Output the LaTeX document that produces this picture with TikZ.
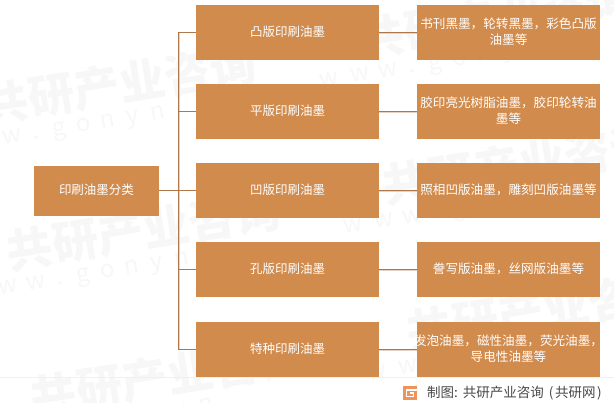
\documentclass[tikz,border=0pt]{standalone}
\usepackage{fontspec}
\setmainfont{Noto Sans CJK SC}
\definecolor{boxfill}{HTML}{D18B4D}
\definecolor{linecol}{HTML}{B0774A}
\definecolor{shadowcol}{HTML}{E6D2C2}
\definecolor{wmark}{HTML}{F7F7F7}
\definecolor{logocol}{HTML}{F0925A}
\newcommand{\wl}[2]{\makebox[#1pt][c]{#2}}
\newcommand{\wideline}[1]{\makebox[183pt][c]{#1}}
\tikzset{
  x=1pt,y=-1pt,
  rootbox/.style={fill=boxfill,text=white,minimum width=125pt,minimum height=50pt,inner sep=0pt,text depth=3.5pt,font=\fontsize{12.5pt}{16pt}\selectfont},
  midbox/.style={fill=boxfill,text=white,minimum width=183pt,minimum height=55pt,inner sep=0pt,text depth=3.5pt,font=\fontsize{12.5pt}{16pt}\selectfont},
  infobox/.style={midbox,text depth=,align=center,text width=183pt,execute at end node={\rule[-2.5pt]{0pt}{2.5pt}},font=\fontsize{12.6pt}{16.5pt}\selectfont},
  conn/.style={draw=linecol,line width=1pt},
  connshadow/.style={draw=shadowcol,line width=1.4pt},
  wmcn/.style={text=wmark,font=\fontsize{46pt}{46pt}\selectfont\bfseries,rotate=9,inner sep=0pt,anchor=west},
  wmen/.style={text=wmark,font=\fontsize{24pt}{24pt}\selectfont,rotate=9,inner sep=0pt,anchor=west},
  foot/.style={text=black!72,font=\fontsize{13.5pt}{14pt}\selectfont,inner sep=0pt,anchor=west}
}
\begin{document}
\begin{tikzpicture}
\useasboundingbox (0,0) rectangle (614,403);
% watermark
\foreach \dx/\dy in {0/0,24/146,48/292,376/-66,400/80,424/226}{
  \node[wmcn] (wc\dx) at (-17+\dx,106+\dy) {共研产业咨询};
  \node[wmen] (we\dx) at (-63+\dx,151+\dy) {\wl{32}{w}\wl{32}{w}\wl{25}{w}\wl{22}{.}\wl{25}{g}\wl{25}{o}\wl{25}{n}\wl{25}{y}\wl{25}{n}};
}
\draw[draw=black!6,line width=1.2pt] (0,377.5) -- (614,377.5);
% nodes
\node[rootbox] (root) at (96.5,191) {印刷油墨分类};
\node[midbox] (m1) at (287.5,32.5) {凸版印刷油墨};
\node[midbox] (m2) at (287.5,111.5) {平版印刷油墨};
\node[midbox] (m3) at (287.5,190.5) {凹版印刷油墨};
\node[midbox] (m4) at (287.5,269.5) {孔版印刷油墨};
\node[midbox] (m5) at (287.5,349.5) {特种印刷油墨};
\node[infobox] (r1) at (508.5,32.5) {\wideline{书刊黑墨，轮转黑墨，彩色凸版}\\油墨等};
\node[infobox] (r2) at (508.5,111.5) {\wideline{胶印亮光树脂油墨，胶印轮转油}\\墨等};
\node[infobox] (r3) at (508.5,190.5) {照相凹版油墨，雕刻凹版油墨等};
\node[infobox] (r4) at (508.5,269.5) {誊写版油墨，丝网版油墨等};
\node[infobox] (r5) at (508.5,349.5) {\wideline{发泡油墨，磁性油墨，荧光油墨，}\\导电性油墨等};
% connectors
\coordinate (trunk) at (178,191);
\draw[connshadow] ([xshift=1.5pt]trunk |- m1.west) -- ([xshift=1.5pt]trunk |- m5.west);
\draw[conn] (trunk |- m1.west) -- (trunk |- m5.west);
\draw[conn] (root.east) -- (trunk);
\foreach \n in {1,...,5}{
  \draw[conn] (trunk |- m\n.west) -- (m\n.west);
  \draw[connshadow] ([yshift=-1.2pt]m\n.east) -- ([yshift=-1.2pt]r\n.west);
  \draw[conn] (m\n.east) -- (r\n.west);
}
% footer
\fill[logocol] (403,386) rectangle (417,400);
\draw[white,line width=1.6pt] (417,390) -- (406.5,390) -- (406.5,396.5) -- (413.5,396.5) -- (413.5,393.2) -- (410,393.2);
\node[foot] (credit) at (427,393) {制图:\hspace{5pt}共研产业咨询\hspace{5pt}(\hspace{1.5pt}共研网\hspace{1.5pt})};
\end{tikzpicture}
\end{document}
